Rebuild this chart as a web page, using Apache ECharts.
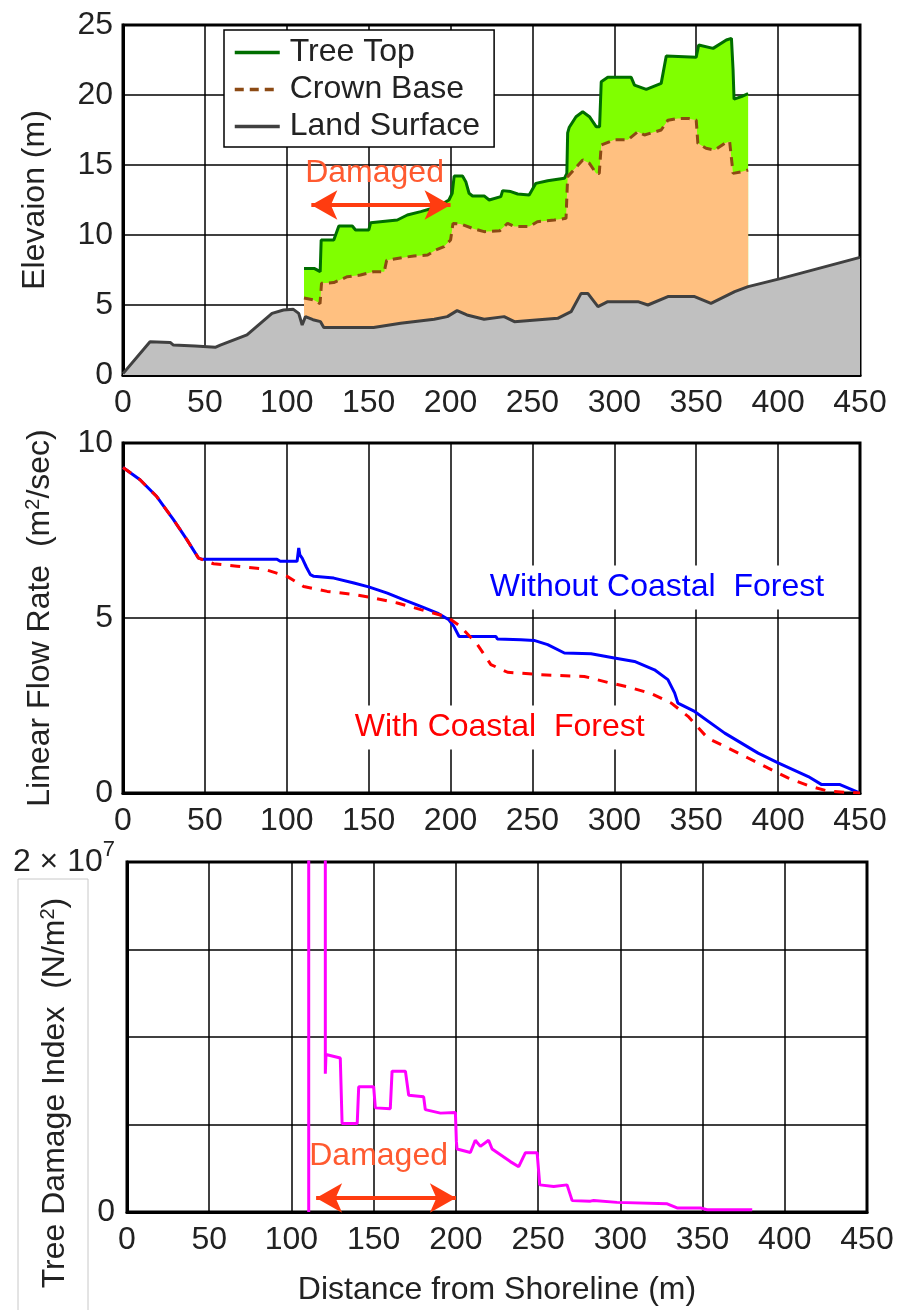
<!DOCTYPE html>
<html><head><meta charset="utf-8">
<script src="https://cdn.jsdelivr.net/npm/echarts@6/dist/echarts.min.js"></script>
<style>html,body{margin:0;padding:0;background:#fff}#c{width:909px;height:1310px}</style>
</head><body><div id="c"></div>
<script>
// ---------- data (distance from shoreline in m) ----------
const landSurface = [[0,0.1],[16.5,2.38],[28.8,2.33],[30.8,2.14],[44,2.07],[56.3,1.98],[59.4,2.14],[75.7,2.86],[91,4.4],[98,4.64],[104,4.69],[107.3,4.4],[109.4,3.57],[111.4,4.17],[116,3.95],[120.6,3.81],[122.6,3.4],[153,3.4],[169.5,3.69],[190,3.98],[198,4.17],[204,4.6],[210,4.29],[220.5,3.98],[232.7,4.17],[239,3.81],[265.4,4.05],[273.6,4.52],[279.7,5.83],[283.8,5.83],[290,4.88],[296,5.24],[314.4,5.24],[320.5,5.0],[332.7,5.6],[349,5.6],[359,5.12],[373.5,5.95],[381.7,6.31],[402,6.9],[450,8.4]];
const treeTop = [[110.5,7.6],[117,7.6],[120.4,7.38],[121,9.64],[128.7,9.64],[131.8,10.64],[140,10.64],[142,10.36],[150.1,10.36],[151.2,10.88],[167.5,11.07],[173.6,11.43],[181.8,11.67],[192,12.02],[199,12.5],[201,12.98],[202.2,14.21],[207.3,14.21],[209.3,13.81],[211.3,12.98],[213.4,12.79],[220.5,12.79],[223.6,12.5],[230.7,12.74],[231.8,13.17],[236.8,13.1],[241,12.93],[248,12.86],[252.1,13.69],[259.3,13.88],[269.5,14.05],[271,14.4],[271.5,17.3],[272.5,17.7],[276.6,18.45],[280.7,18.8],[284.8,18.45],[288.9,17.74],[291,17.74],[292,20.95],[296,21.26],[310.3,21.26],[312.3,20.71],[319.5,20.4],[328.6,20.83],[331.7,22.79],[350,22.7],[351.5,23.57],[360.3,23.33],[368.4,23.93],[371.5,24.05],[372.5,21.79],[373.1,19.7],[377.6,19.88],[381.7,20.1]];
const crownBase = [[110.5,5.5],[116.5,5.36],[120.3,5.1],[121.2,6.55],[128.7,6.6],[137,7.02],[145,7.14],[153,7.38],[159.5,7.38],[161,8.2],[171.5,8.4],[177.6,8.5],[186,8.57],[191,8.93],[196,9.17],[200,9.64],[201.5,10.83],[206,10.79],[214.4,10.43],[220.5,10.24],[230,10.3],[234.8,10.83],[239,10.6],[248,10.6],[253,10.95],[263.4,11.07],[270.5,11.19],[271.5,14.17],[280.7,15.36],[284.8,15.12],[288.9,14.4],[290.8,14.4],[292,16.43],[300,16.8],[308.3,16.8],[314.4,17.38],[318.4,17.14],[328.6,17.5],[332.7,18.2],[338.8,18.33],[345,18.33],[350,18.2],[351,16.55],[356,16.19],[361.3,16.07],[367.4,16.55],[370.4,16.67],[372.5,14.4],[377.6,14.52],[381.7,14.64]];
const flowWithout = [[0,9.3],[10.4,8.95],[20.6,8.47],[30.8,7.81],[39,7.24],[46.1,6.71],[48,6.68],[94,6.68],[96,6.62],[106.3,6.62],[107.3,7.0],[108,6.8],[109.4,6.71],[112,6.45],[114.4,6.24],[116.5,6.19],[128.7,6.14],[141,6.0],[150,5.89],[161.4,5.71],[171.6,5.52],[181.8,5.33],[192,5.14],[199,4.95],[202,4.76],[205.2,4.47],[227.7,4.47],[228.6,4.4],[243,4.38],[251,4.36],[259.3,4.24],[269.5,4.0],[285.8,3.98],[300,3.86],[312.3,3.76],[324.5,3.52],[332.7,3.24],[336.8,2.86],[338.8,2.57],[349,2.33],[367.4,1.71],[387.8,1.14],[400,0.86],[418.4,0.47],[426.6,0.24],[437.8,0.24],[449,0.02]];
const flowWith = [[0,9.3],[10.4,8.95],[20.6,8.47],[30.8,7.81],[39,7.24],[46.1,6.71],[55.3,6.55],[69.6,6.48],[85.9,6.4],[100.2,6.19],[110.3,5.9],[124.7,5.76],[141,5.67],[153,5.57],[167.5,5.43],[181.8,5.24],[198,5.03],[206,4.76],[216.4,4.24],[224.6,3.67],[234.8,3.45],[255,3.38],[281.7,3.33],[296,3.16],[308.3,3.03],[322.5,2.84],[334.8,2.57],[345,2.19],[357,1.57],[367.4,1.33],[381.7,1.0],[394,0.71],[406,0.43],[418.4,0.21],[430.6,0.05],[450,0]];
const damageIndex = [[110.5,0],[110.5,6e7],[120.6,6e7],[120.6,7.9e6],[121,9.0e6],[129.7,8.8e6],[130.8,5.06e6],[140,5.06e6],[140.9,7.16e6],[150,7.16e6],[151,5.95e6],[160.1,5.9e6],[161.2,8.05e6],[169.3,8.05e6],[171.3,6.67e6],[180.4,6.58e6],[181.4,5.85e6],[190.6,5.65e6],[199.7,5.68e6],[200.3,4.02e6],[200.7,3.6e6],[208.8,3.4e6],[211.8,4.1e6],[214.9,3.75e6],[219.9,4.1e6],[222,3.6e6],[233.1,2.88e6],[238.2,2.59e6],[242.3,3.39e6],[249.4,3.39e6],[251,1.55e6],[259.5,1.46e6],[267.6,1.55e6],[270.7,0.65e6],[281.8,0.62e6],[283.8,0.66e6],[298,0.55e6],[328.5,0.47e6],[334.5,0.23e6],[348.8,0.23e6],[352.8,0.13e6],[380.2,0.13e6]];
const damagedRange = [115, 200];   // arrow extent (m)

const FONT = '"Liberation Sans", Arial, sans-serif';
const TXT = '#222';
const FS = 32;
const ARROW = '#ff3c10';
const DMG_TXT = '#ff5a30';

function xAx(i, extra) {
  return Object.assign({
    type: 'value', gridIndex: i, min: 0, max: 450, interval: 50,
    axisLine: { show: true, onZero: false, lineStyle: { color: '#000', width: 3 } },
    axisTick: { show: false },
    axisLabel: { color: TXT, fontSize: FS, fontFamily: FONT, margin: 12 },
    splitLine: { show: true, lineStyle: { color: '#000', width: 1.5 } }
  }, extra || {});
}
function yAx(i, min, max, interval, extra) {
  return Object.assign({
    type: 'value', gridIndex: i, min: min, max: max, interval: interval,
    axisLine: { show: true, onZero: false, lineStyle: { color: '#000', width: 3 } },
    axisTick: { show: false },
    axisLabel: { color: TXT, fontSize: FS, fontFamily: FONT, margin: 10 },
    splitLine: { show: true, lineStyle: { color: '#000', width: 1.5 } },
    nameLocation: 'middle',
    nameTextStyle: { color: TXT, fontSize: FS, fontFamily: FONT }
  }, extra || {});
}
const gridBase = { show: true, borderColor: '#000', borderWidth: 3, backgroundColor: '#fff', containLabel: false, outerBoundsMode: 'none' };

const arrowLine = (y) => ({
  silent: true, animation: false,
  symbol: ['arrow', 'arrow'], symbolSize: [22, 26],
  lineStyle: { color: ARROW, width: 4, type: 'solid' },
  label: { show: false },
  data: [[{ coord: [damagedRange[0], y] }, { coord: [damagedRange[1], y] }]]
});
const textPoint = (coord, text, color, bg) => ({
  silent: true, animation: false,
  symbol: 'rect', symbolSize: 0,
  data: [{ coord: coord }],
  label: {
    show: true, position: 'inside', formatter: text, color: color,
    fontSize: FS, fontFamily: FONT,
    backgroundColor: bg || 'transparent', padding: bg ? [6, 8] : 0
  }
});

const option = {
  animation: false,
  backgroundColor: '#fff',
  textStyle: { fontFamily: FONT },
  grid: [
    Object.assign({ left: 123, top: 25, width: 737, height: 350 }, gridBase),
    Object.assign({ left: 123, top: 443, width: 737, height: 350 }, gridBase),
    Object.assign({ left: 127, top: 862, width: 740, height: 350 }, gridBase)
  ],
  xAxis: [
    xAx(0), xAx(1),
    xAx(2, { name: 'Distance from Shoreline (m)', nameLocation: 'middle', nameGap: 62,
      nameTextStyle: { color: TXT, fontSize: FS, fontFamily: FONT } })
  ],
  yAxis: [
    yAx(0, 0, 25, 5, { name: 'Elevaion (m)', nameGap: 72 }),
    yAx(1, 0, 10, 5, {
      name: '{a|Linear Flow Rate  (m}{s|2}{a|/sec)}', nameGap: 66,
      nameTextStyle: { color: TXT, fontFamily: FONT, rich: {
        a: { fontSize: FS, fontFamily: FONT, color: TXT },
        s: { fontSize: 20, fontFamily: FONT, color: TXT, padding: [0, 0, 14, 0] } } }
    }),
    yAx(2, 0, 2e7, 5e6, {
      axisLabel: {
        color: TXT, fontSize: FS, fontFamily: FONT, margin: 12,
        formatter: function (v) { return v === 0 ? '0' : (v === 2e7 ? '{a|2 × 10}{s|7}' : ''); },
        rich: {
          a: { fontSize: FS, fontFamily: FONT, color: TXT },
          s: { fontSize: 22, fontFamily: FONT, color: TXT, padding: [0, 0, 24, 0] }
        }
      }
    })
  ],
  legend: {
    show: true, left: 224, top: 30, orient: 'vertical',
    padding: [5, 14, 3, 9], itemGap: 2, itemWidth: 45, itemHeight: 14,
    borderColor: '#000', borderWidth: 1.5, backgroundColor: '#fff',
    itemStyle: { opacity: 0 },
    lineStyle: { width: 3.5 },
    textStyle: { color: TXT, fontSize: FS, fontFamily: FONT, lineHeight: 35, padding: [0, 0, 0, 5] },
    data: ['Tree Top', 'Crown Base', 'Land Surface']
  },
  graphic: [
    { type: 'rect', shape: { x: 18, y: 879, width: 70, height: 450 },
      style: { fill: 'none', stroke: '#c8c8c8', lineWidth: 1 }, silent: true },
    { type: 'text', x: 55, y: 1093, rotation: Math.PI / 2, silent: true,
      style: { text: '{a|Tree Damage Index  (N/m}{s|2}{a|)}', align: 'center', verticalAlign: 'middle',
        fill: TXT, font: FS + 'px ' + FONT,
        rich: { a: { fontSize: FS, fontFamily: FONT, fill: TXT },
                s: { fontSize: 20, fontFamily: FONT, fill: TXT, padding: [0, 0, 14, 0] } } } }
  ],
  series: [
    { name: 'Tree Top', type: 'line', xAxisIndex: 0, yAxisIndex: 0, data: treeTop,
      symbol: 'none', showSymbol: false,
      lineStyle: { color: '#006e00', width: 3 }, itemStyle: { color: '#006e00' },
      areaStyle: { color: '#80ff00', opacity: 1 } },
    { name: 'Crown Base', type: 'line', xAxisIndex: 0, yAxisIndex: 0, data: crownBase,
      symbol: 'none', showSymbol: false,
      lineStyle: { color: '#8c4a14', width: 3, type: [9, 6] }, itemStyle: { color: '#8c4a14' },
      areaStyle: { color: '#ffc080', opacity: 1 } },
    { name: 'Land Surface', type: 'line', xAxisIndex: 0, yAxisIndex: 0, data: landSurface,
      symbol: 'none', showSymbol: false,
      lineStyle: { color: '#404040', width: 3 }, itemStyle: { color: '#404040' },
      areaStyle: { color: '#c0c0c0', opacity: 1 },
      markLine: arrowLine(12.14),
      markPoint: textPoint([153.6, 14.4], 'Damaged', DMG_TXT) },
    { name: 'Without Coastal Forest', type: 'line', xAxisIndex: 1, yAxisIndex: 1, data: flowWithout,
      symbol: 'none', showSymbol: false, z: 3,
      lineStyle: { color: '#0000ff', width: 3 }, itemStyle: { color: '#0000ff' },
      markPoint: textPoint([326, 5.87], 'Without Coastal  Forest', '#0000ff', '#fff') },
    { name: 'With Coastal Forest', type: 'line', xAxisIndex: 1, yAxisIndex: 1, data: flowWith,
      symbol: 'none', showSymbol: false,
      lineStyle: { color: '#ff0000', width: 3, type: [10, 9] }, itemStyle: { color: '#ff0000' },
      markPoint: textPoint([230, 1.87], 'With Coastal  Forest', '#ff0000', '#fff') },
    { name: 'Tree Damage Index', type: 'line', xAxisIndex: 2, yAxisIndex: 2, data: damageIndex,
      symbol: 'none', showSymbol: false, clip: true,
      lineStyle: { color: '#ff00ff', width: 3 }, itemStyle: { color: '#ff00ff' },
      markLine: arrowLine(0.8e6),
      markPoint: textPoint([153, 3.2e6], 'Damaged', DMG_TXT) }
  ]
};
const chart = echarts.init(document.getElementById('c'), null, { renderer: 'canvas' });
chart.setOption(option);
</script>
</body></html>
